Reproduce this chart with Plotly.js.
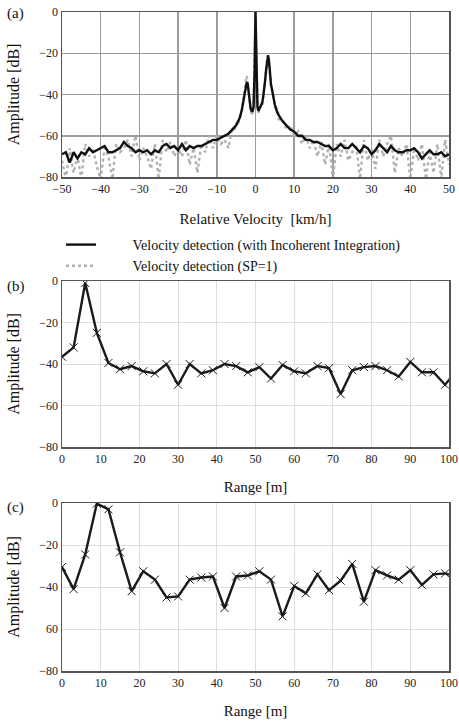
<!DOCTYPE html>
<html><head><meta charset="utf-8">
<script src="https://cdn.plot.ly/plotly-3.0.1.min.js"></script>
<style>html,body{margin:0;padding:0;background:#fff}#chart{width:459px;height:723px}</style>
</head><body><div id="chart"></div>
<script>
// Panel (a): relative velocity [km/h]
const velocity = [-50,-49,-48,-47,-46,-45,-44,-43,-42,-41,-40,-39,-38,-37,-36,-35,-34,-33,-32,-31,-30,-29,-28,-27,-26,-25,-24,-23,-22,-21,-20,-19,-18,-17,-16,-15,-14,-13,-12,-11,-10,-9,-8,-7,-6,
-5.5,-5,-4.5,-4,-3.5,-3,-2.75,-2.5,-2.25,-2,-1.75,-1.5,-1.25,-1,-0.75,-0.5,-0.25,0,0.25,0.5,0.75,1,1.25,1.5,1.75,2,2.25,2.5,2.75,3,3.25,3.5,3.75,4,4.5,5,5.5,
6,7,8,9,10,11,12,13,14,15,16,17,18,19,20,21,22,23,24,25,26,27,28,29,30,31,32,33,34,35,36,37,38,39,40,41,42,43,44,45,46,47,48,49,50];
const ampIncoherent = [-69,-68,-73,-68,-71,-68,-69,-66,-68,-67,-66,-65,-68,-68,-67,-66,-63,-65,-66,-68,-67,-68,-67,-69,-67,-68,-65,-64,-66,-65,-67,-64,-67,-65,-66,-65,-65,-64,-63,-62,-62,-61,-60,-59,-57,
-56,-55,-53,-51,-47,-42,-38,-35,-34,-35,-39,-44,-47,-48,-48,-46,-30,0,-30,-46,-48,-47,-46,-45,-44,-41,-38,-33,-28,-23,-21,-24,-31,-35,-40,-45,-48,
-50,-53,-55,-57,-58,-60,-60,-62,-62,-63,-63,-64,-65,-65,-67,-66,-64,-66,-66,-64,-66,-68,-65,-66,-69,-67,-64,-66,-68,-65,-67,-68,-68,-67,-67,-66,-68,-71,-69,-67,-69,-69,-68,-70,-69];
const ampSP1 = [-72,-81,-66,-78,-70,-81,-64,-70,-66,-75,-81,-66,-70,-81,-64,-68,-66,-62,-70,-60,-72,-66,-70,-76,-64,-81,-62,-68,-63,-70,-66,-70,-62,-74,-66,-78,-64,-68,-60,-66,-60,-64,-62,-66,-56,
-58,-54,-55,-50,-48,-41,-36,-33,-31,-34,-40,-45,-48,-49,-49,-45,-28,0,-28,-45,-49,-46,-47,-44,-45,-40,-37,-32,-27,-22,-21,-25,-30,-36,-39,-46,-47,
-52,-52,-57,-55,-60,-58,-64,-60,-66,-62,-70,-63,-74,-64,-81,-64,-70,-62,-72,-68,-64,-81,-62,-72,-66,-76,-62,-70,-64,-60,-78,-66,-70,-64,-81,-66,-72,-64,-81,-68,-78,-64,-81,-62,-74];

// Panels (b) and (c): range [m]
const rangeM = [0,3,6,9,12,15,18,21,24,27,30,33,36,39,42,45,48,51,54,57,60,63,66,69,72,75,78,81,84,87,90,93,96,99,102];
const ampRangeB = [-36.5,-32,-1,-25,-39.5,-42.5,-41,-43.5,-44.5,-40,-50,-40,-44.5,-43,-40,-41,-44,-41.5,-47,-40.5,-43.5,-44.5,-41,-42,-54.5,-43,-41.5,-41,-43,-46,-39,-44,-44,-50,-43];
const ampRangeC = [-30.5,-41,-24.5,-0.3,-3,-23.5,-42,-32.5,-36.5,-45,-44.5,-36.5,-35.5,-35,-50,-35,-34.5,-32.5,-36.5,-54,-39.5,-43,-34,-41.5,-37,-29,-47,-32,-34.5,-36.5,-32,-39,-34,-33.5,-35];

const velTicks = [-50,-40,-30,-20,-10,0,10,20,30,40,50];
const ampTicks = [0,-20,-40,-60,-80];
const ampTickTextA = ['0','\u221220','\u221240','\u221260','\u221280'];
const ampTickTextC = ['0','\u221220','\u221240','60','\u221280'];
const rangeTicks = [0,10,20,30,40,50,60,70,80,90,100];
const legendNames = ['Velocity detection (with Incoherent Integration)', 'Velocity detection (SP=1)'];

const FONT = "'Liberation Serif', 'Times New Roman', Times, serif";
const W = 459, H = 723;
const xDom = [62/W, 449/W];
const py = p => 1 - p/H;
const pad = '\u00a0'.repeat(9);

const traces = [
  {x: velocity, y: ampSP1, type:'scatter', mode:'lines', name: pad + legendNames[1],
   line:{color:'#b0b0b0', width:2.4, dash:'dot'}, xaxis:'x', yaxis:'y', legendrank:2},
  {x: velocity, y: ampIncoherent, type:'scatter', mode:'lines', name: pad + legendNames[0],
   line:{color:'#111', width:2.4}, xaxis:'x', yaxis:'y', legendrank:1},
  {x: rangeM, y: ampRangeB, type:'scatter', mode:'lines+markers', showlegend:false,
   line:{color:'#1a1a1a', width:2.4}, marker:{symbol:'x-thin-open', size:8, line:{color:'#444', width:1}},
   xaxis:'x2', yaxis:'y2'},
  {x: rangeM, y: ampRangeC, type:'scatter', mode:'lines+markers', showlegend:false,
   line:{color:'#1a1a1a', width:2.4}, marker:{symbol:'x-thin-open', size:8, line:{color:'#444', width:1}},
   xaxis:'x3', yaxis:'y3'}
];

const frame = {showline:true, mirror:true, linecolor:'#555', linewidth:1.5, zeroline:false, ticks:'',
  tickfont:{family:FONT, size:12, color:'#222'}};
const ytitle = {text:'Amplitude [dB]', font:{family:FONT, size:16, color:'#111'}, standoff:15};

const layout = {
  width:W, height:H, margin:{l:0,r:0,t:0,b:0}, paper_bgcolor:'#fff', plot_bgcolor:'#fff',
  font:{family:FONT, color:'#111'},
  showlegend:true,
  legend:{x:61/W, y:py(229), xanchor:'left', yanchor:'top', itemwidth:30, bgcolor:'rgba(0,0,0,0)',
    font:{family:FONT, size:14, color:'#111'}, tracegroupgap:0, traceorder:'normal'},
  xaxis:Object.assign({}, frame, {domain:xDom, anchor:'y', range:[-50,50], tickvals:velTicks,
    ticktext:velTicks.map(v=> v<0 ? '\u2212'+(-v) : String(v)),
    showgrid:true, gridcolor:'#9c9c9c', gridwidth:1.5,
    title:{text:'Relative Velocity  [km/h]', font:{family:FONT, size:15, color:'#111'}, standoff:18}}),
  yaxis:Object.assign({}, frame, {domain:[py(177), py(12)], anchor:'x', range:[-80,0], tickvals:ampTicks, ticktext:ampTickTextA,
    showgrid:true, gridcolor:'#9c9c9c', gridwidth:1.5, title:ytitle}),
  xaxis2:Object.assign({}, frame, {domain:xDom, anchor:'y2', range:[0,100], tickvals:rangeTicks,
    showgrid:true, gridcolor:'#dedede', gridwidth:1,
    title:{text:'Range [m]', font:{family:FONT, size:15, color:'#111'}, standoff:16}}),
  yaxis2:Object.assign({}, frame, {domain:[py(447), py(281)], anchor:'x2', range:[-80,0], tickvals:ampTicks, ticktext:ampTickTextA,
    showgrid:true, gridcolor:'#dedede', gridwidth:1, title:ytitle}),
  xaxis3:Object.assign({}, frame, {domain:xDom, anchor:'y3', range:[0,100], tickvals:rangeTicks,
    showgrid:true, gridcolor:'#dedede', gridwidth:1,
    title:{text:'Range [m]', font:{family:FONT, size:15, color:'#111'}, standoff:16}}),
  yaxis3:Object.assign({}, frame, {domain:[py(671), py(503)], anchor:'x3', range:[-80,0], tickvals:ampTicks, ticktext:ampTickTextC,
    showgrid:true, gridcolor:'#dedede', gridwidth:1, title:ytitle}),
  annotations:[
    {text:'(a)', xref:'paper', yref:'paper', x:5/W, y:py(13), xanchor:'left', yanchor:'middle', showarrow:false, font:{family:FONT, size:15, color:'#111'}},
    {text:'(b)', xref:'paper', yref:'paper', x:5/W, y:py(287), xanchor:'left', yanchor:'middle', showarrow:false, font:{family:FONT, size:15, color:'#111'}},
    {text:'(c)', xref:'paper', yref:'paper', x:5/W, y:py(508), xanchor:'left', yanchor:'middle', showarrow:false, font:{family:FONT, size:15, color:'#111'}}
  ]
};

Plotly.newPlot('chart', traces, layout, {staticPlot:true, displayModeBar:false});
</script></body></html>
